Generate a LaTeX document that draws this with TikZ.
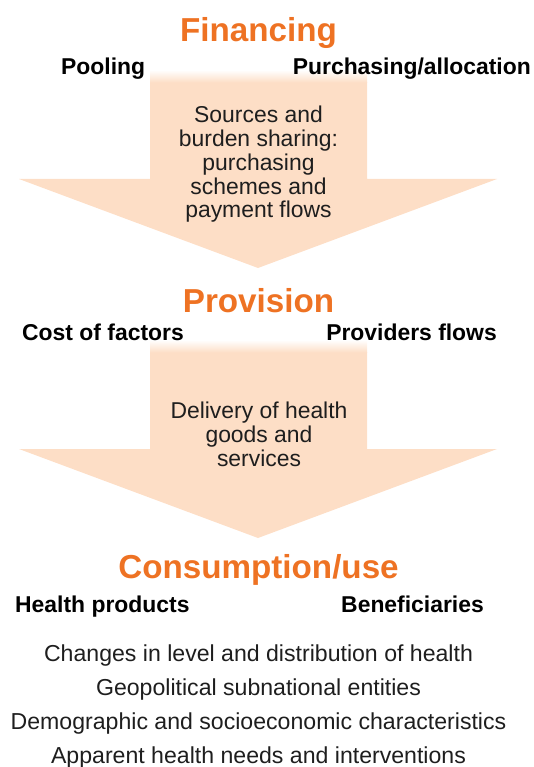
\documentclass[tikz,border=0pt]{standalone}
\usepackage{fontspec}
\setmainfont{Liberation Sans}
\definecolor{orangeT}{RGB}{238,114,35}
\definecolor{peach}{RGB}{253,222,198}
\definecolor{bodytext}{RGB}{30,30,30}
\begin{document}
\begin{tikzpicture}[x=1pt,y=-1pt,
  title/.style={font=\fontsize{33.2}{36}\selectfont\bfseries, text=orangeT, inner sep=0pt, anchor=base},
  sub/.style={font=\fontsize{22.9}{26}\selectfont\bfseries, text=black, inner sep=0pt, anchor=base},
  flowtext/.style={font=\fontsize{22.9}{23.8}\selectfont, text=bodytext, inner sep=0pt, anchor=north, align=center},
  listtext/.style={font=\fontsize{23.1}{26}\selectfont, text=bodytext, inner sep=0pt, anchor=base},
  arrowfill/.style={fill=peach}]
\useasboundingbox (0,0) rectangle (533,767);
% arrow 1
\fill[arrowfill] (150,82) -- (367,82) -- (367,179) -- (497,179) -- (258,268) -- (19,179) -- (150,179) -- cycle;
\shade[top color=white, bottom color=peach] (150,70) rectangle (367,82.5);
% arrow 2
\fill[arrowfill] (150,352) -- (367,352) -- (367,449) -- (497,449) -- (258,538) -- (19,449) -- (150,449) -- cycle;
\shade[top color=white, bottom color=peach] (150,340) rectangle (367,352.5);
% titles
\node[title] (fin) at (258.5,42) {Financing};
\node[title] (prov) at (258.5,312) {Provision};
\node[title] (cons) at (258.5,578) {Consumption/use};
% sub headings
\node[sub, anchor=base west] (pool) at (61,75) {Pooling};
\node[sub, anchor=base east] (purch) at (531,75) {Purchasing/allocation};
\node[sub, anchor=base west] (cost) at (22,340) {Cost of factors};
\node[sub, anchor=base east] (provfl) at (497,340) {Providers flows};
\node[sub, anchor=base west] (hprod) at (15,612) {Health products};
\node[sub, anchor=base east] (benef) at (484,612) {Beneficiaries};
% arrow texts
\node[flowtext] (src) at (258.5,106) {Sources and\\burden sharing:\\purchasing\\schemes and\\payment flows};
\node[flowtext] (deliv) at (259,402) {Delivery of health\\goods and\\services};
% list
\node[listtext] (l1) at (258.5,661) {Changes in level and distribution of health};
\node[listtext] (l2) at (258.5,695) {Geopolitical subnational entities};
\node[listtext] (l3) at (258.5,729) {Demographic and socioeconomic characteristics};
\node[listtext] (l4) at (258.5,763) {Apparent health needs and interventions};
\end{tikzpicture}
\end{document}
